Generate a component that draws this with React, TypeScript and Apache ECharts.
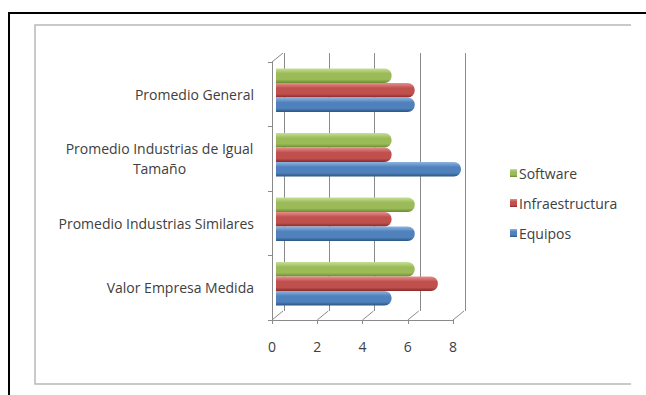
import React, { useEffect, useRef } from "react";
import * as echarts from "echarts";

const categories = [
  "Valor Empresa Medida",
  "Promedio Industrias Similares",
  "Promedio Industrias de Igual\nTamaño",
  "Promedio General",
];
const equipos = [5, 6, 8, 6];
const infraestructura = [7, 5, 5, 6];
const software = [6, 6, 5, 5];
const xTicks = [0, 2, 4, 6, 8];

const FONT = "Open Sans";
const TEXT = "#404040";
const GRID = "#8a8a8a";
const FS = 14;

function cyl(light: string, base: string, dark: string) {
  return new echarts.graphic.LinearGradient(0, 0, 0, 1, [
    { offset: 0, color: light },
    { offset: 0.35, color: base },
    { offset: 0.75, color: base },
    { offset: 1, color: dark },
  ]);
}

export default function App() {
  const ref = useRef<HTMLDivElement>(null);
  useEffect(() => {
    if (!ref.current) return;
    const chart = echarts.init(ref.current, undefined, { renderer: "svg" });
    const DX = 11;
    const DY = -9;
    const barStyle = (light: string, base: string, dark: string) => ({
      color: cyl(light, base, dark),
      borderRadius: [0, 7, 7, 0],
    });
    chart.setOption({
      animation: false,
      backgroundColor: "#fff",
      textStyle: { fontFamily: FONT },
      graphic: [
        {
          type: "rect",
          shape: { x: 9, y: 13, width: 700, height: 500 },
          style: { fill: "none", stroke: "#000", lineWidth: 2 },
        },
        {
          type: "polyline",
          shape: { points: [[631, 25], [35, 25], [35, 384], [631, 384]] },
          style: { fill: "none", stroke: "#b8b8b8", lineWidth: 1.5 },
        },
      ],
      legend: {
        orient: "vertical",
        left: 505,
        top: 161,
        itemWidth: 7,
        itemHeight: 8,
        itemGap: 16,
        icon: "rect",
        data: ["Software", "Infraestructura", "Equipos"],
        textStyle: { fontFamily: FONT, fontSize: FS, color: TEXT, padding: [0, 0, 0, -3] },
      },
      grid: [
        { left: 284, right: 181, top: 53, bottom: 84 },
        { left: 272, right: 193, top: 62, bottom: 75 },
        { left: 276, right: 185, top: 58, bottom: 79 },
      ],
      xAxis: [
        {
          gridIndex: 0, type: "value", min: 0, max: 8, interval: 2,
          axisLine: { show: false }, axisTick: { show: false }, axisLabel: { show: false },
          splitLine: { show: true, lineStyle: { color: GRID, width: 1 } },
        },
        {
          gridIndex: 1, type: "value", min: 0, max: 8, interval: 2,
          axisLine: { show: true, lineStyle: { color: GRID } },
          axisTick: { show: true, length: 4, lineStyle: { color: GRID } },
          axisLabel: { show: true, margin: 19, fontFamily: FONT, fontSize: FS, color: TEXT },
          splitLine: { show: false },
        },
        {
          gridIndex: 2, type: "value", min: 0, max: 8, show: false,
          splitLine: { show: false },
        },
      ],
      yAxis: [
        { gridIndex: 0, type: "category", data: categories, show: false },
        {
          gridIndex: 1, type: "category", data: categories,
          axisLine: { show: true, lineStyle: { color: GRID } },
          axisTick: { show: true, length: 4, lineStyle: { color: GRID } },
          axisLabel: {
            margin: 18, fontFamily: FONT, fontSize: FS, color: TEXT,
            lineHeight: 20, align: "right",
            formatter: (v: string) =>
              v.indexOf("\n") >= 0
                ? v.split("\n").map((s) => "{c|" + s + "}").join("\n")
                : v,
            rich: {
              c: {
                width: 189, align: "center", fontFamily: FONT, fontSize: FS,
                color: TEXT, lineHeight: 20,
              },
            },
          },
        },
        { gridIndex: 2, type: "category", data: categories, show: false },
      ],
      series: [
        {
          type: "custom",
          xAxisIndex: 1,
          yAxisIndex: 1,
          silent: true,
          z: 1,
          data: xTicks.map((v) => [v, 0]),
          renderItem: (params: any, api: any) => {
            const v = api.value(0);
            const p = api.coord([v, 0]);
            const band = api.size([0, 1])[1];
            const y = p[1] + band / 2;
            const children: any[] = [
              {
                type: "line",
                shape: { x1: p[0], y1: y, x2: p[0] + DX, y2: y + DY },
                style: { stroke: GRID, lineWidth: 1 },
              },
            ];
            if (params.dataIndex === 0) {
              const top = api.coord([v, categories.length - 1]);
              const yt = top[1] - band / 2;
              children.push({
                type: "line",
                shape: { x1: p[0], y1: yt, x2: p[0] + DX, y2: yt + DY },
                style: { stroke: GRID, lineWidth: 1 },
              });
            }
            return { type: "group", children };
          },
        },
        {
          name: "Software", type: "bar", xAxisIndex: 2, yAxisIndex: 2,
          data: software, barWidth: 14.5, barGap: "0%", z: 3,
          itemStyle: barStyle("#c6df95", "#9bbb59", "#6a8a2f"),
        },
        {
          name: "Infraestructura", type: "bar", xAxisIndex: 2, yAxisIndex: 2,
          data: infraestructura, barWidth: 14.5, barGap: "0%", z: 3,
          itemStyle: barStyle("#e58f8c", "#c0504d", "#882a28"),
        },
        {
          name: "Equipos", type: "bar", xAxisIndex: 2, yAxisIndex: 2,
          data: equipos, barWidth: 14.5, barGap: "0%", z: 3,
          itemStyle: barStyle("#8fb3e0", "#4f81bd", "#2c5582"),
        },
      ],
    });
    return () => chart.dispose();
  }, []);
  return (
    <div
      ref={ref}
      style={{ position: "fixed", left: 0, top: 0, width: 646, height: 395 }}
    />
  );
}
